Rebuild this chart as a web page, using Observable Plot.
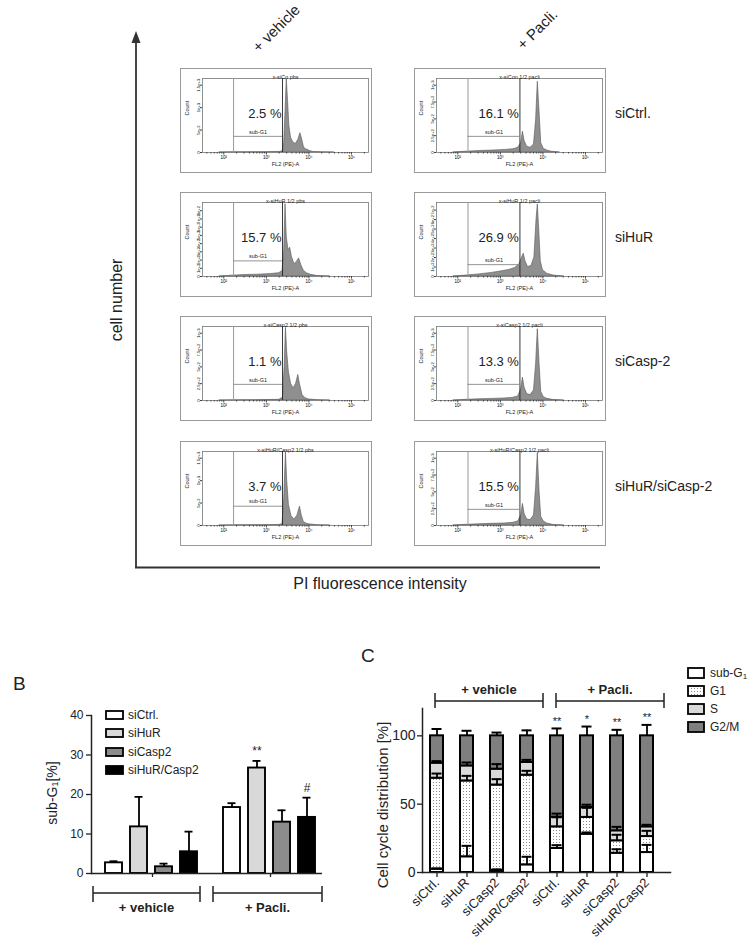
<!DOCTYPE html>
<html><head><meta charset="utf-8">
<script src="https://cdn.jsdelivr.net/npm/d3@7"></script>
<script src="https://cdn.jsdelivr.net/npm/@observablehq/plot@0.6"></script>
<style>
body{margin:0;background:#fff;font-family:"Liberation Sans",Arial,sans-serif;}
#page{position:relative;width:750px;height:950px;overflow:hidden;background:#fff;}
.abs{position:absolute;}
.hbox{position:absolute;border:1px solid #9a9a9a;}
#overlay{position:absolute;left:0;top:0;pointer-events:none;}
</style></head><body><div id="page"></div>
<script>
// ---------------- DATA ----------------
// Panel A: flow cytometry histograms (x = log10 FL2 intensity, y = count)
const rowLabels = ["siCtrl.", "siHuR", "siCasp-2", "siHuR/siCasp-2"];
const colLabels = ["+ vehicle", "+ Pacli."];
const histTitles = ["x-siCo pbs", "x-siCon 1/2 pacli", "x-siHuR 1/2 pbs", "x-siHuR 1/2 pacli",
  "x-siCasp2 1/2 pbs", "x-siCasp2 1/2 pacli", "x-siHuR/Casp2 1/2 pbs", "x-siHuR/Casp2 1/2 pacli"];
const histPercents = ["2.5 %", "16.1 %", "15.7 %", "26.9 %", "1.1 %", "13.3 %", "3.7 %", "15.5 %"];
const histYMax = [1650, 1100, 900, 780, 1100, 1100, 1650, 1100];
const histYTicks = [[0, 500, 1000, 1500], [0, 250, 500, 750, 1000], [0, 100, 200, 300, 400, 500, 600, 700, 800],
  [0, 100, 200, 300, 400, 500, 600, 700], [0, 250, 500, 750, 1000], [0, 250, 500, 750, 1000],
  [0, 500, 1000, 1500], [0, 250, 500, 750, 1000]];
const histXTicks = [2, 3, 4, 5];
const gateLow = [2.23, 2.24, 2.23, 2.24, 2.23, 2.24, 2.23, 2.24];
const gateHigh = [3.38, 3.46, 3.38, 3.46, 3.38, 3.46, 3.38, 3.46];
const gateLevel = [360, 240, 190, 125, 240, 240, 430, 240];

const histCtrlVehicle = [[1.9,0],[2.2,4],[2.6,6],[3.0,8],[3.3,12],[3.38,20],[3.42,220],[3.45,900],[3.48,1640],[3.51,1150],[3.54,600],[3.58,330],[3.63,230],[3.69,190],[3.75,280],[3.8,430],[3.84,300],[3.88,130],[3.92,70],[3.97,60],[4.02,35],[4.1,12],[4.3,4],[4.6,0]];
const histCtrlPacli = [[1.9,0],[2.2,12],[2.5,22],[2.8,28],[3.1,38],[3.3,48],[3.42,70],[3.49,140],[3.53,310],[3.57,170],[3.63,85],[3.71,70],[3.79,120],[3.84,480],[3.88,1050],[3.92,620],[3.96,140],[4.02,55],[4.1,30],[4.2,12],[4.4,0]];
const histHuRVehicle = [[1.9,0],[2.2,10],[2.5,18],[2.8,22],[3.1,30],[3.3,40],[3.38,65],[3.42,320],[3.45,880],[3.48,480],[3.52,320],[3.56,350],[3.6,240],[3.66,150],[3.72,180],[3.77,220],[3.82,140],[3.88,70],[3.95,40],[4.05,20],[4.2,6],[4.5,0]];
const histHuRPacli = [[1.9,0],[2.2,10],[2.5,22],[2.8,38],[3.0,52],[3.2,68],[3.35,90],[3.45,130],[3.51,200],[3.55,240],[3.59,160],[3.65,100],[3.73,110],[3.8,200],[3.85,600],[3.88,760],[3.91,520],[3.95,160],[4.0,65],[4.1,30],[4.25,10],[4.5,0]];
const histCasp2Vehicle = [[1.9,0],[2.4,4],[2.9,6],[3.3,10],[3.39,40],[3.43,500],[3.46,1080],[3.49,720],[3.53,420],[3.58,250],[3.64,180],[3.7,250],[3.75,380],[3.79,240],[3.85,80],[3.92,35],[4.0,15],[4.2,5],[4.5,0]];
const histCasp2Pacli = [[1.9,0],[2.2,10],[2.5,18],[2.8,24],[3.1,30],[3.3,40],[3.42,60],[3.49,170],[3.53,340],[3.57,190],[3.63,95],[3.71,80],[3.79,150],[3.84,540],[3.88,1060],[3.92,560],[3.96,130],[4.02,50],[4.1,25],[4.25,8],[4.5,0]];
const histDoubleVehicle = [[1.9,0],[2.4,5],[2.9,8],[3.3,12],[3.38,30],[3.42,600],[3.46,1630],[3.49,1000],[3.53,460],[3.59,210],[3.66,130],[3.73,220],[3.79,420],[3.83,230],[3.88,80],[3.95,40],[4.02,25],[4.2,6],[4.5,0]];
const histDoublePacli = [[1.9,0],[2.2,10],[2.5,18],[2.8,25],[3.1,30],[3.3,40],[3.42,60],[3.49,150],[3.53,320],[3.57,170],[3.63,90],[3.71,80],[3.79,150],[3.84,560],[3.88,1080],[3.92,520],[3.96,130],[4.02,60],[4.1,30],[4.25,8],[4.5,0]];
const histograms = [histCtrlVehicle, histCtrlPacli, histHuRVehicle, histHuRPacli,
  histCasp2Vehicle, histCasp2Pacli, histDoubleVehicle, histDoublePacli];

// Panel B: sub-G1 [%]
const bGroups = ["+ vehicle", "+ Pacli."];
const bSeries = ["siCtrl.", "siHuR", "siCasp2", "siHuR/Casp2"];
const bFills = ["#ffffff", "#d9d9d9", "#8c8c8c", "#000000"];
const bVehicle = [2.7, 11.8, 1.7, 5.5];
const bVehicleSD = [0.4, 7.6, 0.8, 5.1];
const bPacli = [16.7, 26.7, 13.0, 14.2];
const bPacliSD = [1.1, 1.8, 3.0, 5.0];
const bSigVehicle = ["", "", "", ""];
const bSigPacli = ["", "**", "", "#"];
const bYTicks = [0, 10, 20, 30, 40];

// Panel C: cell cycle distribution [%]
const cGroups = ["+ vehicle", "+ vehicle", "+ vehicle", "+ vehicle", "+ Pacli.", "+ Pacli.", "+ Pacli.", "+ Pacli."];
const cLabels = ["siCtrl.", "siHuR", "siCasp2", "siHuR/Casp2", "siCtrl.", "siHuR", "siCasp2", "siHuR/Casp2"];
const cPhases = ["sub-G1", "G1", "S", "G2/M"];
const cPhaseFills = ["#ffffff", "url(#dots)", "#d9d9d9", "#7f7f7f"];
const cSubG1 = [2.4, 11.5, 1.5, 5.6, 17.6, 28.0, 14.1, 14.6];
const cG1 = [66.6, 55.5, 62.5, 65.6, 15.8, 12.3, 9.1, 11.7];
const cS = [11.0, 11.0, 11.6, 9.3, 7.1, 7.3, 7.3, 7.1];
const cG2M = [20.0, 22.0, 24.4, 19.5, 59.5, 52.4, 69.5, 66.6];
const cSubG1SD = [0.6, 8.0, 0.8, 5.9, 2.4, 1.3, 2.9, 5.6];
const cG1SD = [3.4, 3.7, 4.3, 3.2, 7.0, 7.0, 4.4, 4.2];
const cSSD = [1.5, 2.5, 3.7, 1.9, 2.6, 2.0, 2.9, 1.5];
const cG2MSD = [5.0, 3.7, 2.4, 4.0, 5.4, 6.8, 4.4, 8.0];
const cSig = ["", "", "", "", "**", "*", "**", "**"];
const cYTicks = [0, 50, 100];

// ---------------- LAYOUT ----------------
const FONT = "Liberation Sans, Arial, sans-serif";
const page = document.getElementById("page");
function place(el, x, y, cls) {
  const d = document.createElement("div");
  d.className = cls || "abs";
  d.style.left = x + "px"; d.style.top = y + "px";
  d.appendChild(el); page.appendChild(d); return d;
}

// Panel A histograms
const sup = {2: "\u00B2", 3: "\u00B3", 4: "\u2074", 5: "\u2075"};
const minorTicks = d3.range(1, 6).flatMap(n => d3.range(2, 10).map(k => n + Math.log10(k))).filter(v => v > 1.5 && v < 5.4);
const colX = [180, 414];
const rowY = [68, 192, 316, 441];

function histPlot(i) {
  const lo = gateLow[i], hi = gateHigh[i];
  return Plot.plot({
    width: 190, height: 103,
    marginLeft: 21, marginRight: 3, marginTop: 9, marginBottom: 20,
    style: {fontFamily: FONT, background: "transparent", overflow: "visible"},
    x: {domain: [1.5, 5.4]},
    y: {domain: [0, histYMax[i]]},
    marks: [
      Plot.areaY(histograms[i], {x: d => d[0], y: d => d[1], fill: "#8f8f8f", stroke: "#555", strokeWidth: 0.6}),
      Plot.frame({stroke: "#777", strokeWidth: 0.8}),
      Plot.axisX({ticks: histXTicks, tickSize: 2.5, tickPadding: 1, fontSize: 4.5, tickFormat: d => "10" + sup[d], label: null, stroke: "#444"}),
      Plot.axisX({ticks: minorTicks, tickSize: 1.5, tickFormat: () => "", label: null, stroke: "#444"}),
      Plot.axisY({ticks: histYTicks[i], tickSize: 2, tickPadding: 1, tickRotate: -90, fontSize: 4.2, tickFormat: ",", label: null, stroke: "#444"}),
      Plot.ruleX([lo], {stroke: "#999", strokeWidth: 1}),
      Plot.ruleX([hi], {stroke: "#222", strokeWidth: 0.9}),
      Plot.ruleY([gateLevel[i]], {x1: lo, x2: hi, stroke: "#888", strokeWidth: 0.9}),
      Plot.text(["sub-G1"], {x: (lo + hi) / 2, y: gateLevel[i], dy: -4.5, fontSize: 5.5, fill: "#222"}),
      Plot.text([histPercents[i]], {x: hi, frameAnchor: "middle", dy: -2, dx: -1, textAnchor: "end", fontSize: 13, fill: "#222"}),
      Plot.text([histTitles[i]], {frameAnchor: "top", dy: -3.5, fontSize: 5.5, fill: "#222"}),
      Plot.text(["FL2 (PE)-A"], {frameAnchor: "bottom", dy: 13, fontSize: 5.5, fill: "#222"}),
      Plot.text(["Count"], {frameAnchor: "left", dx: -15, rotate: -90, fontSize: 5.5, fill: "#222"})
    ]
  });
}
for (let r = 0; r < 4; r++) for (let c = 0; c < 2; c++) {
  place(histPlot(r * 2 + c), colX[c], rowY[r], "hbox");
}

// Panel B
const bRows = [];
bSeries.forEach((s, i) => bRows.push({group: bGroups[0], series: s, value: bVehicle[i], sd: bVehicleSD[i], sig: bSigVehicle[i]}));
bSeries.forEach((s, i) => bRows.push({group: bGroups[1], series: s, value: bPacli[i], sd: bPacliSD[i], sig: bSigPacli[i]}));

const plotB = Plot.plot({
  width: 340, height: 185,
  marginLeft: 90, marginRight: 21, marginTop: 15, marginBottom: 12,
  style: {fontFamily: FONT, background: "transparent", overflow: "visible", color: "#222"},
  fx: {domain: bGroups, paddingInner: 0.0756, paddingOuter: 0},
  x: {domain: bSeries, paddingInner: 0.33, paddingOuter: 0.34, align: 0.84},
  y: {domain: [0, 40]},
  color: {domain: bSeries, range: bFills},
  marks: [
    Plot.barY(bRows, {fx: "group", x: "series", y: "value", fill: "series", stroke: "#000", strokeWidth: 1.9}),
    Plot.ruleX(bRows, {fx: "group", x: "series", y1: "value", y2: d => d.value + d.sd, stroke: "#000", strokeWidth: 1.8}),
    Plot.tickY(bRows, {fx: "group", x: "series", y: d => d.value + d.sd, stroke: "#000", strokeWidth: 1.8, insetLeft: 4.5, insetRight: 4.5}),
    Plot.text(bRows.filter(d => d.sig), {fx: "group", x: "series", y: d => d.value + d.sd, text: "sig", dy: -10, fontSize: 12, fill: "#222"}),
    Plot.axisY({ticks: bYTicks, tickSize: 5, tickPadding: 3, fontSize: 12, label: null, strokeWidth: 1.3}),
    Plot.frame({anchor: "left", facetAnchor: "left", stroke: "#222", strokeWidth: 1.5}),
    Plot.ruleY([0], {fx: () => bGroups[0], insetRight: -9, stroke: "#222", strokeWidth: 1.5}),
    Plot.ruleY([0], {fx: () => bGroups[1], insetRight: -4, stroke: "#222", strokeWidth: 1.5}),
    Plot.axisFx({anchor: "bottom", tickSize: 4, tickFormat: () => "", label: null, dx: 6.5, strokeWidth: 1.3}),
    Plot.axisX({ticks: [], label: null})
  ]
});
place(plotB, 0, 700);

// Panel C
const cKeys = cLabels.map((l, i) => cGroups[i] + "|" + l);
const cPhaseValues = [cSubG1, cG1, cS, cG2M];
const cPhaseSD = [cSubG1SD, cG1SD, cSSD, cG2MSD];
const cRows = [], cErr = [];
cKeys.forEach((k, i) => {
  let cum = 0;
  cPhases.forEach((p, j) => {
    const v = cPhaseValues[j][i];
    cRows.push({key: k, phase: p, value: v});
    cum += v;
    cErr.push({key: k, top: cum, sd: cPhaseSD[j][i]});
  });
});
const cSigRows = cKeys.map((k, i) => ({key: k, sig: cSig[i], top: 100 + cG2MSD[i]})).filter(d => d.sig);

const plotC = Plot.plot({
  width: 390, height: 250,
  marginLeft: 62, marginRight: 80, marginTop: 8, marginBottom: 78,
  style: {fontFamily: FONT, background: "transparent", overflow: "visible", color: "#222"},
  x: {domain: cKeys, paddingInner: 0.57, paddingOuter: 0.32, align: 0.3},
  y: {domain: [0, 120]},
  color: {domain: cPhases, range: cPhaseFills},
  marks: [
    Plot.barY(cRows, {x: "key", y: "value", fill: "phase", stroke: "#000", strokeWidth: 2}),
    Plot.ruleX(cErr, {x: "key", y1: "top", y2: d => d.top + d.sd, stroke: "#000", strokeWidth: 1.8}),
    Plot.tickY(cErr, {x: "key", y: d => d.top + d.sd, stroke: "#000", strokeWidth: 2, insetLeft: 1.5, insetRight: 1.5}),
    Plot.text(cSigRows, {x: "key", y: "top", text: "sig", dy: -7, fontSize: 11, fill: "#222"}),
    Plot.axisY({ticks: cYTicks, tickSize: 5, tickPadding: 2, fontSize: 14, label: null, strokeWidth: 1.3}),
    Plot.axisX({tickRotate: -45, tickSize: 5, tickPadding: 3, fontSize: 13, tickFormat: d => d.split("|")[1], label: null, strokeWidth: 1.3}),
    Plot.frame({anchor: "left", stroke: "#222", strokeWidth: 1.5}),
    Plot.frame({anchor: "bottom", stroke: "#222", strokeWidth: 1.5})
  ]
});
place(plotC, 360, 700);

// ---------------- OVERLAY (annotations, legends) ----------------
const bLegendY = [715, 733, 752, 770];
const cLegendY = [673, 691, 709, 727];
let o = `<svg id="overlay" width="750" height="950" xmlns="http://www.w3.org/2000/svg" font-family="${FONT}" fill="#222">
<defs><pattern id="dots" width="3" height="3" patternUnits="userSpaceOnUse">
<rect width="3" height="3" fill="#ffffff"/><rect x="1" y="1" width="1" height="1" fill="#8a8a8a"/></pattern></defs>
<line x1="136" y1="567.5" x2="136" y2="41" stroke="#333" stroke-width="1.8"/>
<path d="M131.5,43 L136,31 L140.5,43 Z" fill="#333"/>
<line x1="135" y1="567.5" x2="600" y2="567.5" stroke="#333" stroke-width="1.8"/>
<text transform="translate(122,300) rotate(-90)" text-anchor="middle" font-size="16">cell number</text>
<text x="380" y="589" text-anchor="middle" font-size="16">PI fluorescence intensity</text>
<text transform="translate(276,28) rotate(-45)" text-anchor="middle" dominant-baseline="central" font-size="15">${colLabels[0]}</text>
<text transform="translate(537,29) rotate(-45)" text-anchor="middle" dominant-baseline="central" font-size="15">${colLabels[1]}</text>
`;
const rowLabelY = [113, 237, 361, 486];
rowLabels.forEach((t, i) => { o += `<text x="615" y="${rowLabelY[i]}" dominant-baseline="central" font-size="14">${t}</text>`; });
// panel letters
o += `<text x="13" y="690" font-size="19">B</text><text x="361" y="662" font-size="19">C</text>`;
// B y label
o += `<text transform="translate(52,793) rotate(-90)" text-anchor="middle" dominant-baseline="central" font-size="14">sub-G<tspan font-size="9" dy="3">1</tspan><tspan dy="-3">[%]</tspan></text>`;
// B legend
bSeries.forEach((s, i) => {
  o += `<rect x="106" y="${bLegendY[i] - 4}" width="17" height="8" fill="${bFills[i]}" stroke="#000" stroke-width="1.8"/>`;
  o += `<text x="128" y="${bLegendY[i]}" dominant-baseline="central" font-size="12">${s}</text>`;
});
// brackets
function bracket(x1, x2, yLine, yTop, yBot, label, yText, fs) {
  return `<path d="M${x1},${yTop} V${yBot} M${x1},${yLine} H${x2} M${x2},${yTop} V${yBot}" stroke="#222" stroke-width="1.5" fill="none"/>` +
    `<text x="${(x1 + x2) / 2}" y="${yText}" text-anchor="middle" dominant-baseline="central" font-size="${fs}" font-weight="bold">${label}</text>`;
}
o += bracket(93, 200, 893, 886, 902, bGroups[0], 907, 13);
o += bracket(213, 322, 893, 886, 902, bGroups[1], 907, 13);
o += bracket(435, 543, 701, 693, 708, "+ vehicle", 689, 13);
o += bracket(556, 664, 701, 693, 708, "+ Pacli.", 689, 13);
// C y label
o += `<text transform="translate(382,805) rotate(-90)" text-anchor="middle" dominant-baseline="central" font-size="15">Cell cycle distribution [%]</text>`;
// C legend
cPhases.forEach((p, i) => {
  o += `<rect x="688" y="${cLegendY[i] - 5}" width="16" height="10" fill="${cPhaseFills[i]}" stroke="#000" stroke-width="1.8"/>`;
  const lab = p === "sub-G1" ? `sub-G<tspan font-size="8" dy="3">1</tspan>` : p;
  o += `<text x="710" y="${cLegendY[i]}" dominant-baseline="central" font-size="12">${lab}</text>`;
});
o += `</svg>`;
const holder = document.createElement("div");
holder.innerHTML = o;
page.appendChild(holder.firstElementChild);
</script></body></html>
